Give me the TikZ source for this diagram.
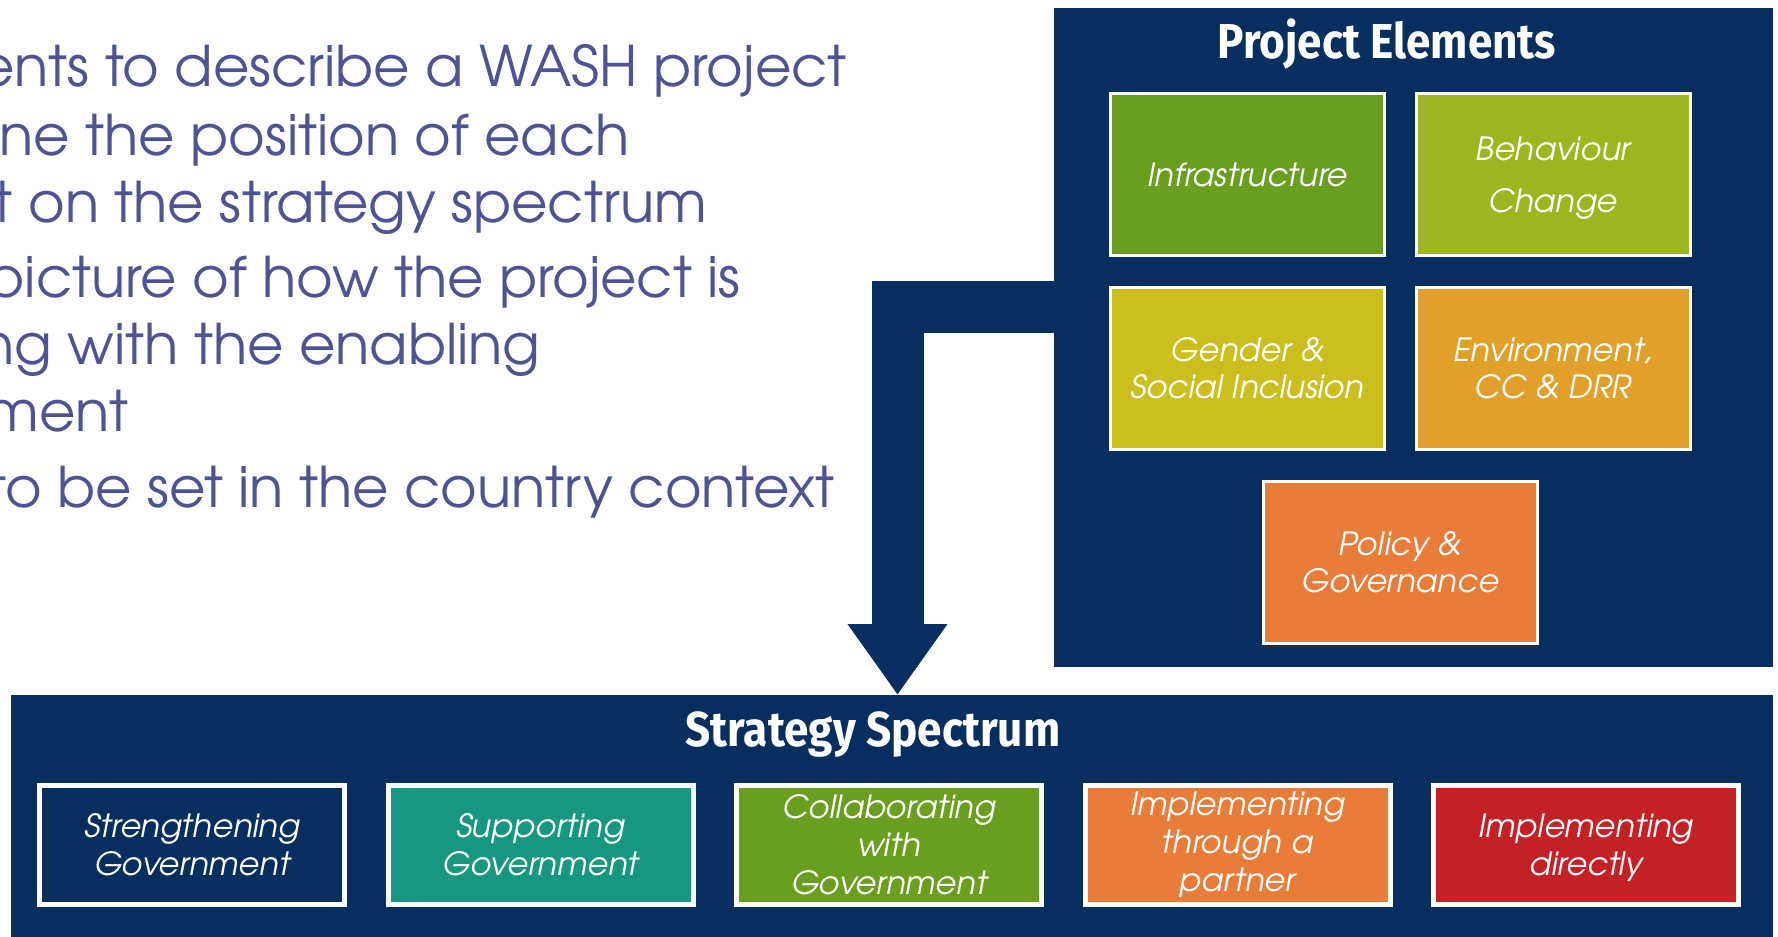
\documentclass[tikz,border=0pt]{standalone}
\usepackage{fontspec}
\setmainfont{TeX Gyre Adventor}
\newfontfamily\titlefont[FakeStretch=0.9]{Fira Sans}
\usetikzlibrary{arrows.meta}
\definecolor{navy}{HTML}{062F5F}
\definecolor{bullettext}{HTML}{4E5394}
\definecolor{infragreen}{HTML}{6A9E1F}
\definecolor{behavgreen}{HTML}{9DB620}
\definecolor{genderyellow}{HTML}{CDBE1F}
\definecolor{envorange}{HTML}{E1A02A}
\definecolor{policyorange}{HTML}{E87D3A}
\definecolor{supportteal}{HTML}{17977F}
\definecolor{directred}{HTML}{C42126}
\tikzstyle{panel}=[draw=none,fill=navy,inner sep=0pt]
\tikzstyle{element}=[draw=white,line width=1.5pt,minimum width=137pt,minimum height=81pt,text=white,font=\itshape\fontsize{16}{18.5}\selectfont,align=center,inner sep=0pt]
\tikzstyle{strategy}=[draw=white,line width=2.5pt,minimum width=152.5pt,minimum height=59.5pt,text=white,font=\itshape\fontsize{16}{19}\selectfont,align=center,inner sep=0pt]
\tikzstyle{heading}=[text=white,anchor=base,inner sep=0pt,font=\titlefont\bfseries\fontsize{24.5}{28}\selectfont]
\tikzstyle{bullet}=[anchor=base east,inner sep=0pt,text=bullettext,font=\fontsize{28}{34}\selectfont]

\begin{document}
\begin{tikzpicture}[x=0.5pt,y=-0.5pt]
    \useasboundingbox (0,0) rectangle (1778,937);
    \clip (0,0) rectangle (1778,937);
    \node[bullet] (line1) at (847,86) {ents to describe a WASH project};
    \node[bullet] (line2) at (630,155) {ne the position of each};
    \node[bullet] (line3) at (707,222) {t on the strategy spectrum};
    \node[bullet] (line4) at (741,297) {picture of how the project is};
    \node[bullet] (line5) at (541,364) {ng with the enabling};
    \node[bullet] (line6) at (129,431) {ment};
    \node[bullet] (line7) at (835,507) {to be set in the country context};
    \node[panel,minimum width=359.5pt,minimum height=329.5pt] (pe) at (1413.5,337.5) {};
    \node[panel,minimum width=881pt,minimum height=130pt,anchor=north west] (ss) at (11,695) {};
    \coordinate (bend) at (897.5,307);
    \draw[navy,line width=26pt,line join=miter,-{Triangle[width=47.5pt,length=35.5pt]}]
        ([xshift=2pt]pe.west |- bend) -| (ss.north -| bend);
    \node[heading] (pehead) at (1387,58) {Project Elements};
    \node[element,fill=infragreen] (infra) at (1247.5,174.5) {Infrastructure};
    \node[element,fill=behavgreen,text depth=-2pt] (behav) at (1553,174.5) {Behaviour\\[7.5pt]Change};
    \node[element,fill=genderyellow] (gender) at (1247.5,368.5) {Gender \&\\Social Inclusion};
    \node[element,fill=envorange] (env) at (1553,368.5) {Environment,\\CC \& DRR};
    \node[element,fill=policyorange] (policy) at (1400,562.5) {Policy \&\\Governance};
    \node[heading] (sshead) at (873,746) {Strategy Spectrum};
    \node[strategy,fill=navy] (strengthen) at (192,844.5) {Strengthening\\Government};
    \node[strategy,fill=supportteal] (support) at (540.5,844.5) {Supporting\\Government};
    \node[strategy,fill=infragreen] (collab) at (889,844.5) {Collaborating\\with\\Government};
    \node[strategy,fill=policyorange] (partner) at (1237.5,844.5) {Implementing\\through a\\partner};
    \node[strategy,fill=directred,text depth=-2pt] (direct) at (1586,844.5) {Implementing\\directly};
\end{tikzpicture}
\end{document}
